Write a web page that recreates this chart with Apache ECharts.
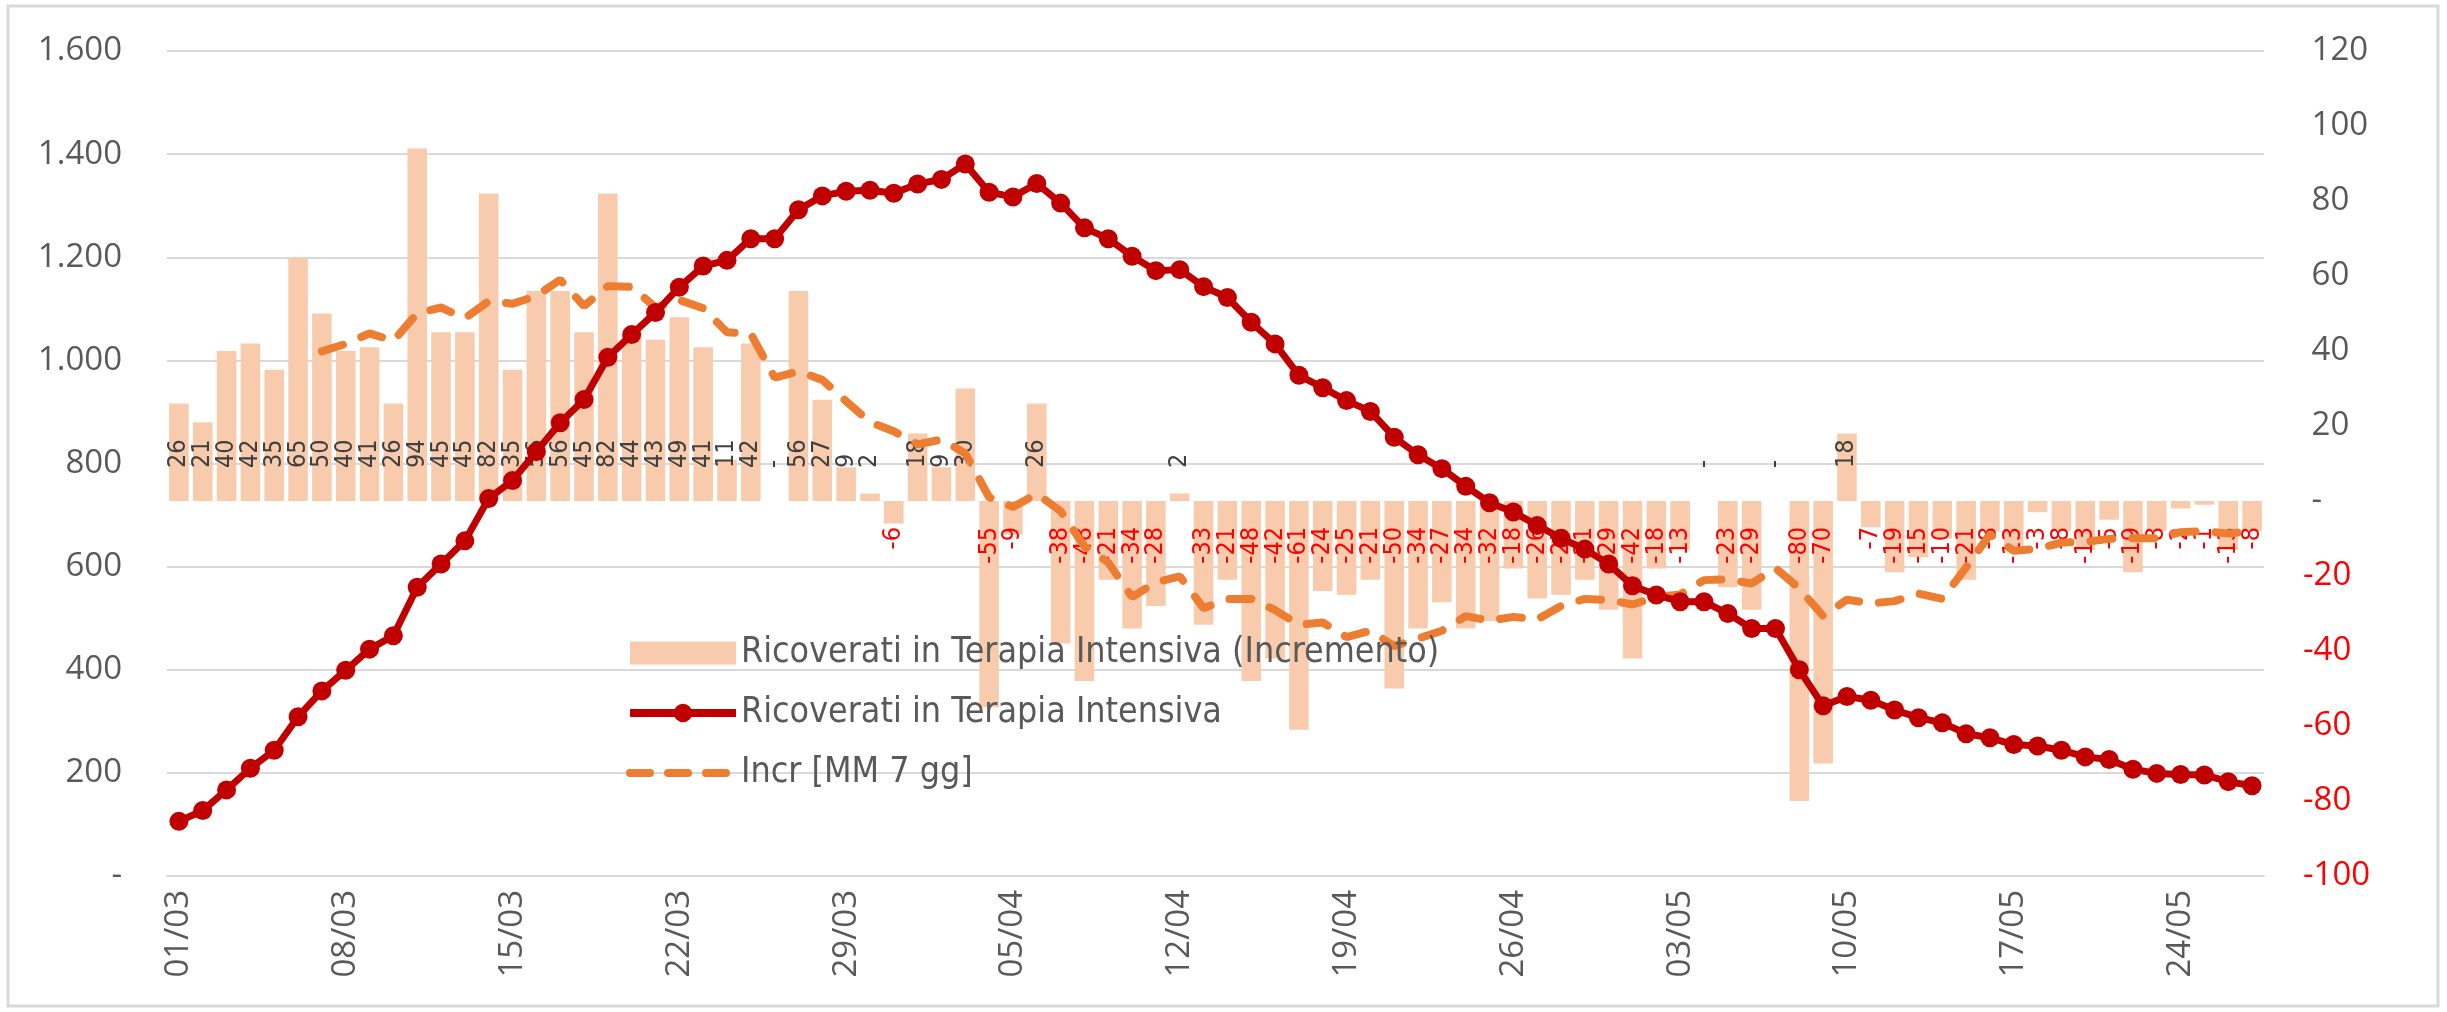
<!DOCTYPE html>
<html>
<head>
<meta charset="utf-8">
<script src="https://cdn.jsdelivr.net/npm/echarts@6/dist/echarts.min.js"></script>
<style>
  html, body { margin: 0; padding: 0; background: #fff; }
  #main { width: 2447px; height: 1012px; }
</style>
</head>
<body>
<div id="main"></div>
<script>
// giorni 01/03 - 27/05
const dates = [
  '01/03','02/03','03/03','04/03','05/03','06/03','07/03','08/03','09/03','10/03',
  '11/03','12/03','13/03','14/03','15/03','16/03','17/03','18/03','19/03','20/03',
  '21/03','22/03','23/03','24/03','25/03','26/03','27/03','28/03','29/03','30/03',
  '31/03','01/04','02/04','03/04','04/04','05/04','06/04','07/04','08/04','09/04',
  '10/04','11/04','12/04','13/04','14/04','15/04','16/04','17/04','18/04','19/04',
  '20/04','21/04','22/04','23/04','24/04','25/04','26/04','27/04','28/04','29/04',
  '30/04','01/05','02/05','03/05','04/05','05/05','06/05','07/05','08/05','09/05',
  '10/05','11/05','12/05','13/05','14/05','15/05','16/05','17/05','18/05','19/05',
  '20/05','21/05','22/05','23/05','24/05','25/05','26/05','27/05'
];

// Ricoverati in Terapia Intensiva (totale)
const icuTotal = [
  106, 127, 167, 209, 244, 309, 359, 399, 440, 466,
  560, 605, 650, 732, 767, 823, 879, 924, 1006, 1050,
  1093, 1142, 1183, 1194, 1236, 1236, 1292, 1319, 1328, 1330,
  1324, 1342, 1351, 1381, 1326, 1317, 1343, 1305, 1257, 1236,
  1202, 1174, 1176, 1143, 1122, 1074, 1032, 971, 947, 922,
  901, 851, 817, 790, 756, 724, 706, 680, 655, 634,
  605, 563, 545, 532, 532, 509, 480, 480, 400, 330,
  348, 341, 322, 307, 297, 276, 268, 255, 252, 244,
  231, 226, 207, 199, 197, 196, 183, 175
];

// incremento giornaliero
const icuIncr = [
  26, 21, 40, 42, 35, 65, 50, 40, 41, 26,
  94, 45, 45, 82, 35, 56, 56, 45, 82, 44,
  43, 49, 41, 11, 42, 0, 56, 27, 9, 2,
  -6, 18, 9, 30, -55, -9, 26, -38, -48, -21,
  -34, -28, 2, -33, -21, -48, -42, -61, -24, -25,
  -21, -50, -34, -27, -34, -32, -18, -26, -25, -21,
  -29, -42, -18, -13, 0, -23, -29, 0, -80, -70,
  18, -7, -19, -15, -10, -21, -8, -13, -3, -8,
  -13, -5, -19, -8, -2, -1, -13, -8
];

// media mobile 7 giorni dell'incremento
const incrMA7 = [
  null, null, null, null, null, null,
  39.9, 41.9, 44.7, 42.7, 50.1, 51.6, 48.7, 53.3, 52.6, 54.7,
  59.0, 52.0, 57.3, 57.1, 51.6, 53.6, 51.4, 45.0, 44.6, 32.9,
  34.6, 32.3, 26.6, 21.0, 18.6, 15.1, 16.4, 12.7, 1.0, -1.6,
  1.9, -2.7, -12.1, -16.4, -25.6, -21.7, -20.1, -28.6, -26.1, -26.1,
  -29.1, -33.0, -32.4, -36.3, -34.6, -38.7, -36.7, -34.6, -30.7, -31.9,
  -30.9, -31.6, -28.0, -26.1, -26.4, -27.6, -25.6, -24.9, -21.1, -20.9,
  -22.0, -17.9, -23.3, -30.7, -26.3, -27.3, -26.7, -24.7, -26.1, -17.7,
  -8.9, -13.3, -12.7, -11.1, -10.9, -10.1, -9.9, -9.9, -8.3, -8.0,
  -8.7, -8.0
];

const chart = echarts.init(document.getElementById('main'));

const grey = '#595959';
const axisFont = "'Open Sans', sans-serif";
const narrowFont = "'Liberation Sans Narrow', 'DejaVu Sans Condensed', sans-serif";

// etichette delle barre: dentro la base, ruotate
const barData = icuIncr.map(function (v) {
  const neg = v < 0;
  return {
    value: v,
    label: {
      position: neg ? 'insideTop' : 'insideBottom',
      distance: neg ? 26 : 33,
      align: neg ? 'right' : 'left',
      color: neg ? '#FF0000' : '#404040'
    }
  };
});

const option = {
  animation: false,
  backgroundColor: '#fff',
  graphic: [{
    type: 'rect',
    shape: { x: 8, y: 6, width: 2430, height: 1000 },
    style: { fill: 'none', stroke: '#D9D9D9', lineWidth: 3 },
    silent: true
  }],
  grid: { left: 167, right: 183, top: 51, bottom: 136 },
  legend: {
    orient: 'vertical',
    left: 621,
    top: 630,
    itemWidth: 106,
    itemHeight: 23,
    itemGap: 24,
    textStyle: { fontFamily: narrowFont, fontSize: 35.5, color: grey },
    data: [
      { name: 'Ricoverati in Terapia Intensiva (Incremento)', icon: 'rect' },
      { name: 'Ricoverati in Terapia Intensiva', lineStyle: { width: 8 } },
      {
        name: 'Incr [MM 7 gg]',
        itemStyle: { opacity: 0 },
        lineStyle: { width: 8, type: [20, 18], cap: 'round' }
      }
    ]
  },
  xAxis: {
    type: 'category',
    data: dates,
    boundaryGap: true,
    axisLine: { onZero: false, lineStyle: { color: '#D9D9D9', width: 2 } },
    axisTick: { interval: 6, length: 11, lineStyle: { color: '#D9D9D9', width: 2 } },
    axisLabel: {
      interval: 6,
      rotate: 90,
      margin: 14,
      fontFamily: axisFont,
      fontSize: 33,
      color: grey
    }
  },
  yAxis: [
    {
      type: 'value',
      min: 0,
      max: 1600,
      interval: 200,
      axisLine: { show: false },
      axisTick: { show: false },
      splitLine: { lineStyle: { color: '#D9D9D9', width: 2 } },
      axisLabel: {
        margin: 45,
        fontFamily: axisFont,
        fontSize: 33,
        color: grey,
        formatter: function (v) {
          if (v === 0) return '-';
          return String(v).replace(/\B(?=(\d{3})+(?!\d))/g, '.');
        }
      }
    },
    {
      type: 'value',
      position: 'right',
      min: -100,
      max: 120,
      interval: 20,
      axisLine: { show: false },
      axisTick: { show: false },
      splitLine: { show: false },
      axisLabel: {
        margin: 39,
        fontFamily: axisFont,
        fontSize: 33,
        color: function (v) { return v < 0 ? '#FF0000' : grey; },
        formatter: function (v) {
          if (v === 0) return ' -';
          return v > 0 ? ' ' + v : String(v);
        }
      }
    }
  ],
  series: [
    {
      name: 'Ricoverati in Terapia Intensiva (Incremento)',
      type: 'bar',
      yAxisIndex: 1,
      data: barData,
      barCategoryGap: '18%',
      itemStyle: { color: '#F8CBAD' },
      label: {
        show: true,
        rotate: 90,
        verticalAlign: 'middle',
        fontFamily: narrowFont,
        fontSize: 25,
        formatter: function (p) { return p.value === 0 ? '-' : String(p.value); }
      },
      z: 2
    },
    {
      name: 'Ricoverati in Terapia Intensiva',
      type: 'line',
      yAxisIndex: 0,
      data: icuTotal,
      symbol: 'circle',
      symbolSize: 19,
      showAllSymbol: true,
      itemStyle: { color: '#C00000' },
      lineStyle: { color: '#C00000', width: 7 },
      z: 4
    },
    {
      name: 'Incr [MM 7 gg]',
      type: 'line',
      yAxisIndex: 1,
      data: incrMA7,
      symbol: 'none',
      itemStyle: { color: '#ED7D31' },
      lineStyle: { color: '#ED7D31', width: 8, type: [22, 20], cap: 'round' },
      z: 3
    }
  ]
};

chart.setOption(option);
</script>
</body>
</html>
